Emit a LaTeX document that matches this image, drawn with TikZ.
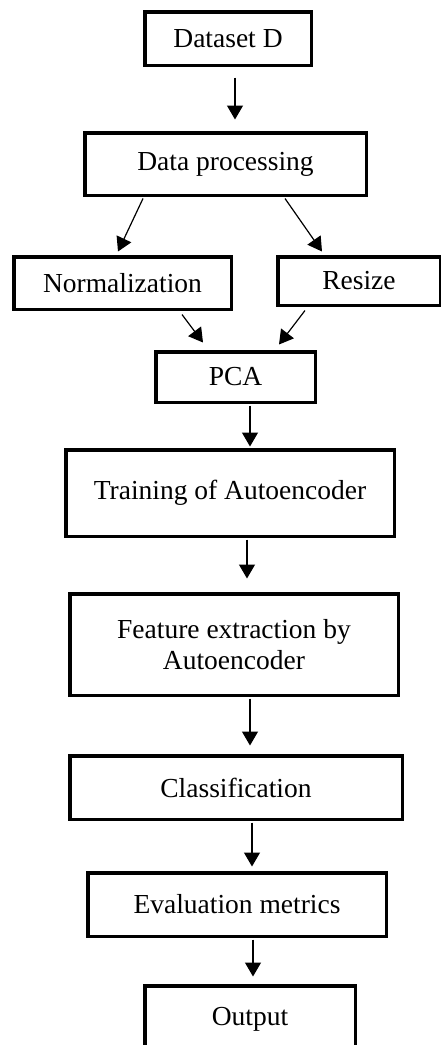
\documentclass[tikz,border=0pt]{standalone}
\usepackage{fontspec}
\setmainfont{Liberation Serif}
\usetikzlibrary{arrows.meta}
\begin{document}
\begin{tikzpicture}[x=1pt,y=-1pt,
  box/.style={draw=black,line width=3.5pt,fill=white,inner sep=0pt,align=center,
    font=\fontsize{27.5}{31}\selectfont},
  arr/.style={line width=1.2pt,-{Triangle[length=14pt,width=16pt]}}]
\clip (0,0) rectangle (441,1045);
\fill[white] (0,0) rectangle (441,1045);
\node[box,minimum width=166.5pt,minimum height=53.5pt] (D) at (228,38.5) {Dataset D};
\node[box,minimum width=281.5pt,minimum height=62.5pt] (P) at (225.5,164) {Data processing};
\node[box,minimum width=217.5pt,minimum height=52.5pt] (N) at (122.5,283) {Normalization};
\node[box,minimum width=162.5pt,minimum height=48.5pt] (R) at (359,281) {Resize};
\node[box,minimum width=159.5pt,minimum height=50.5pt] (A) at (235.5,377) {PCA};
\node[box,minimum width=328.5pt,minimum height=86.5pt] (T) at (230,493) {Training of Autoencoder};
\node[box,minimum width=328.5pt,minimum height=101.5pt] (F) at (234,644.5) {Feature extraction by\\Autoencoder};
\node[box,minimum width=332.5pt,minimum height=63.5pt] (C) at (236,787.5) {Classification};
\node[box,minimum width=298.5pt,minimum height=63.5pt] (E) at (237,904.5) {Evaluation metrics};
\node[box,minimum width=210.5pt,minimum height=67.5pt] (O) at (250,1019.5) {Output};
\draw[arr] ([shift={(7,10.5)}]D.south) -- ([shift={(9.5,-11.5)}]P.north);
\draw[arr] ([shift={(-82.5,1.5)}]P.south) -- ([shift={(-4.5,-3.5)}]N.north);
\draw[arr] ([shift={(59.5,1.5)}]P.south) -- ([shift={(-37,-3.5)}]R.north);
\draw[arr] ([shift={(59.5,3.5)}]N.south) -- ([shift={(-32.5,-7.5)}]A.north);
\draw[arr] ([shift={(-54,3.5)}]R.south) -- ([shift={(43.5,-5.5)}]A.north);
\draw[arr] ([shift={(14.5,1.5)}]A.south) -- ([shift={(20,-1.5)}]T.north);
\draw[arr] ([shift={(17,1.5)}]T.south) -- ([shift={(13,-13.5)}]F.north);
\draw[arr] ([shift={(16,1.5)}]F.south) -- ([shift={(14,-8.5)}]C.north);
\draw[arr] ([shift={(16,1.5)}]C.south) -- ([shift={(15,-4.5)}]E.north);
\draw[arr] ([shift={(16,1.5)}]E.south) -- ([shift={(3,-7.5)}]O.north);
\end{tikzpicture}
\end{document}
